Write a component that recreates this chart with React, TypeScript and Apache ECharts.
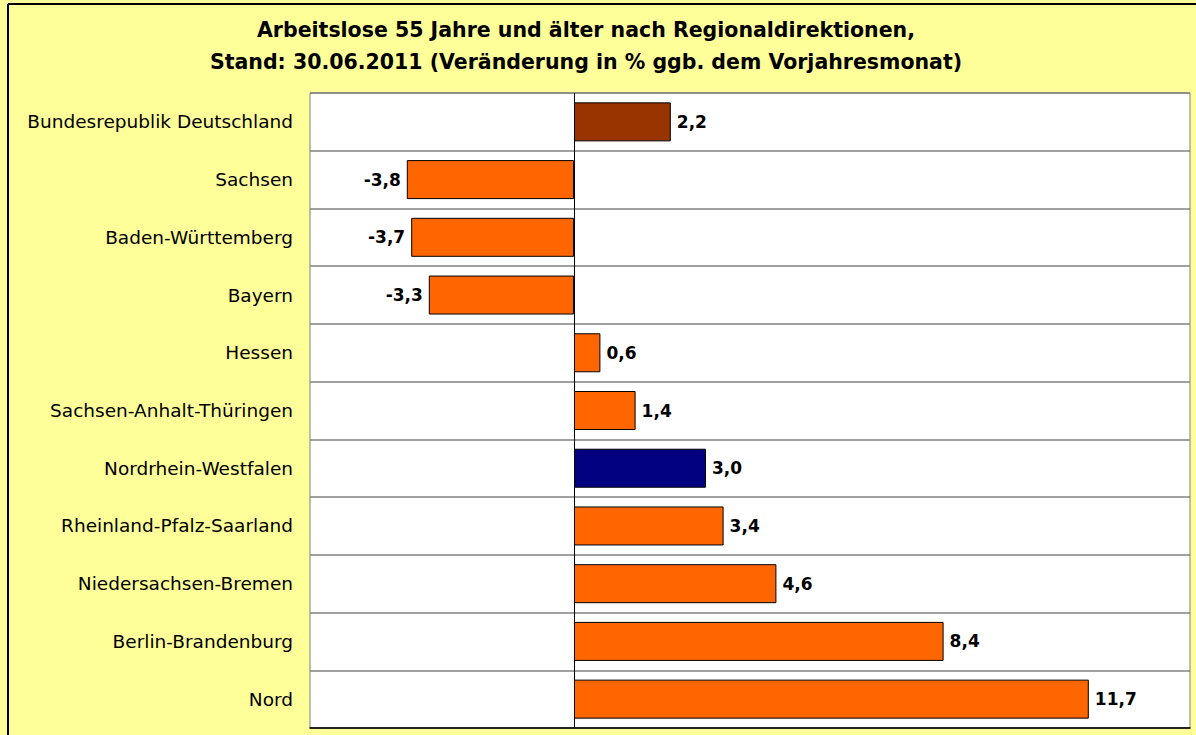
import React, { useEffect, useRef } from "react";
import * as echarts from "echarts";

const categories = [
  "Bundesrepublik Deutschland",
  "Sachsen",
  "Baden-Württemberg",
  "Bayern",
  "Hessen",
  "Sachsen-Anhalt-Thüringen",
  "Nordrhein-Westfalen",
  "Rheinland-Pfalz-Saarland",
  "Niedersachsen-Bremen",
  "Berlin-Brandenburg",
  "Nord",
];
const values = [2.2, -3.8, -3.7, -3.3, 0.6, 1.4, 3.0, 3.4, 4.6, 8.4, 11.7];
const barColors = [
  "#993300", "#FF6600", "#FF6600", "#FF6600", "#FF6600", "#FF6600",
  "#000080", "#FF6600", "#FF6600", "#FF6600", "#FF6600",
];
const titleLines = [
  "Arbeitslose 55 Jahre und älter nach Regionaldirektionen,",
  "Stand: 30.06.2011 (Veränderung in % ggb. dem Vorjahresmonat)",
];

const FONT = "DejaVu Sans";

export default function App() {
  const ref = useRef<HTMLDivElement>(null);
  useEffect(() => {
    document.body.style.margin = "0";
    const chart = echarts.init(ref.current!, null, { renderer: "svg" });
    chart.setOption({
      animation: false,
      backgroundColor: "#FFFF99",
      title: {
        text: titleLines.join("\n"),
        left: 581,
        top: 9,
        textAlign: "center",
        textStyle: {
          fontFamily: FONT,
          fontSize: 20.5,
          fontWeight: "bold",
          color: "#000",
          lineHeight: 32,
        },
      },
      graphic: [
        { type: "line", shape: { x1: 8, y1: 4, x2: 1196, y2: 4 }, style: { stroke: "#000", lineWidth: 2 } },
        { type: "line", shape: { x1: 8, y1: 4, x2: 8, y2: 735 }, style: { stroke: "#000", lineWidth: 2 } },
      ],
      grid: {
        left: 310,
        right: 6,
        top: 93,
        bottom: 7,
        show: true,
        backgroundColor: "#FFFFFF",
        borderColor: "#808080",
        borderWidth: 1,
      },
      xAxis: {
        type: "value",
        min: -6,
        max: 14,
        axisLabel: { show: false },
        axisTick: { show: false },
        splitLine: { show: false },
        axisLine: { show: true, onZero: false, lineStyle: { color: "#000", width: 1.5 } },
      },
      yAxis: {
        type: "category",
        data: categories,
        inverse: true,
        axisLine: { show: false },
        axisTick: { show: false },
        splitLine: { show: true, lineStyle: { color: "#808080", width: 1.5 } },
        axisLabel: {
          fontFamily: FONT,
          fontSize: 18.5,
          color: "#000",
          margin: 17,
        },
      },
      series: [
        {
          type: "bar",
          barWidth: 39,
          data: values.map((v, i) => ({
            value: v,
            itemStyle: { color: barColors[i], borderColor: "#000", borderWidth: 1 },
            label: { position: v < 0 ? "left" : "right" },
          })),
          label: {
            show: true,
            distance: 6,
            fontFamily: FONT,
            fontSize: 17,
            fontWeight: "bold",
            color: "#000",
            formatter: (p: any) => Number(p.value).toFixed(1).replace(".", ","),
          },
          markLine: {
            silent: true,
            symbol: "none",
            label: { show: false },
            lineStyle: { color: "#000", width: 1, type: "solid" },
            data: [{ xAxis: 0 }],
          },
        },
      ],
    });
    return () => chart.dispose();
  }, []);
  return <div ref={ref} style={{ width: 1196, height: 735 }} />;
}
